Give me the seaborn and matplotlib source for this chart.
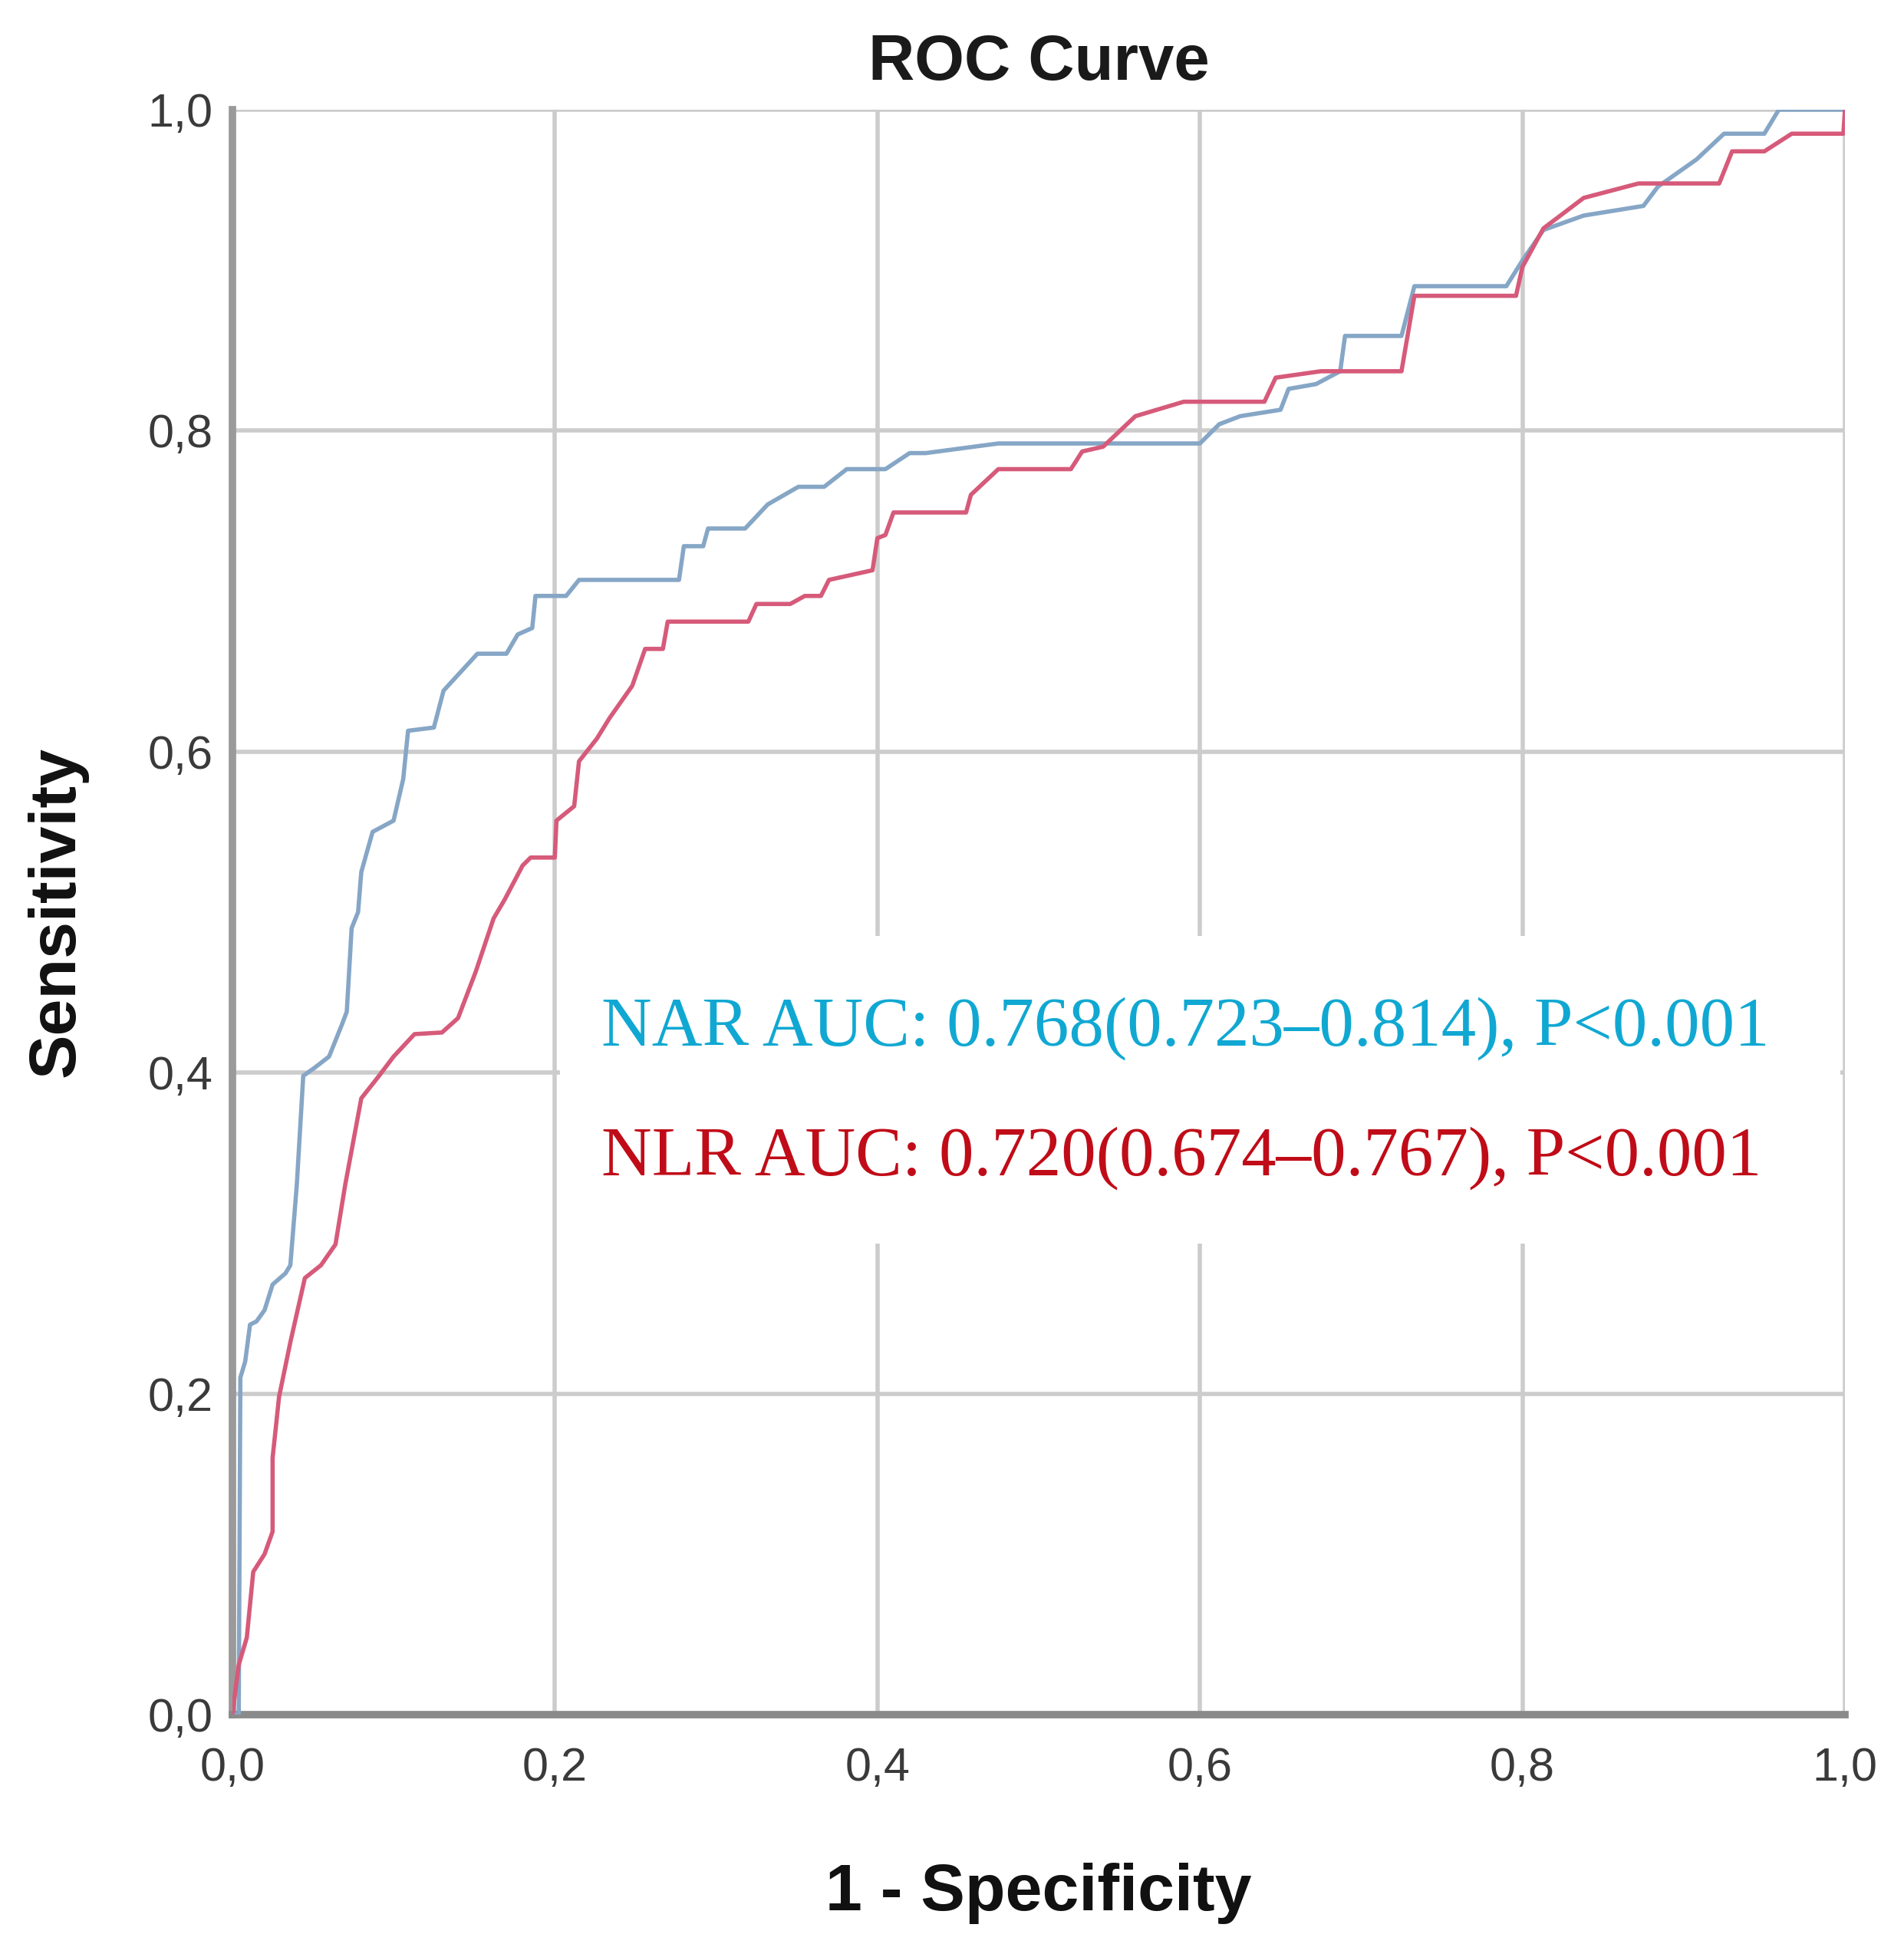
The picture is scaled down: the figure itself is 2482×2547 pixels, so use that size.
import numpy as np
import pandas as pd
import seaborn as sns
import matplotlib.pyplot as plt
from matplotlib.ticker import FuncFormatter

# ROC points (1 - specificity, sensitivity)
nar_fpr = [0, 0.004, 0.005, 0.008, 0.011, 0.015, 0.02, 0.025, 0.033, 0.036, 0.04, 0.044,
           0.051, 0.06, 0.068, 0.071, 0.074, 0.078, 0.08, 0.087, 0.1, 0.106, 0.109, 0.125,
           0.131, 0.152, 0.17, 0.177, 0.186, 0.188, 0.207, 0.215, 0.277, 0.28, 0.292, 0.295,
           0.318, 0.332, 0.351, 0.367, 0.381, 0.405, 0.42, 0.43, 0.475, 0.6, 0.612, 0.625,
           0.65, 0.655, 0.672, 0.687, 0.69, 0.725, 0.733, 0.79, 0.8, 0.813, 0.838, 0.875,
           0.884, 0.908, 0.925, 0.95, 0.959, 1.0]
nar_tpr = [0, 0.0, 0.21, 0.22, 0.243, 0.245, 0.252, 0.268, 0.275, 0.28, 0.33, 0.398,
           0.403, 0.41, 0.43, 0.438, 0.49, 0.5, 0.525, 0.55, 0.557, 0.583, 0.613, 0.615,
           0.638, 0.661, 0.661, 0.673, 0.677, 0.697, 0.697, 0.707, 0.707, 0.728, 0.728, 0.739,
           0.739, 0.754, 0.765, 0.765, 0.776, 0.776, 0.786, 0.786, 0.792, 0.792, 0.804, 0.809,
           0.813, 0.826, 0.829, 0.837, 0.859, 0.859, 0.89, 0.89, 0.906, 0.925, 0.934, 0.94,
           0.952, 0.969, 0.985, 0.985, 1.0, 1.0]

nlr_fpr = [0, 0.004, 0.009, 0.013, 0.02, 0.025, 0.025, 0.029, 0.036, 0.045, 0.055, 0.064,
           0.07, 0.08, 0.091, 0.1, 0.113, 0.13, 0.14, 0.151, 0.162, 0.169, 0.18, 0.185,
           0.2, 0.201, 0.212, 0.215, 0.226, 0.234, 0.248, 0.256, 0.267, 0.27, 0.32, 0.325,
           0.346, 0.355, 0.365, 0.37, 0.397, 0.4, 0.405, 0.41, 0.455, 0.458, 0.475, 0.52,
           0.527, 0.54, 0.56, 0.59, 0.64, 0.647, 0.675, 0.725, 0.733, 0.796, 0.8, 0.813,
           0.838, 0.872, 0.922, 0.93, 0.95, 0.967, 0.999, 1.0]
nlr_tpr = [0, 0.031, 0.048, 0.089, 0.1, 0.114, 0.16, 0.198, 0.232, 0.272, 0.28, 0.293,
           0.33, 0.384, 0.398, 0.41, 0.424, 0.425, 0.434, 0.463, 0.496, 0.508, 0.529, 0.534,
           0.534, 0.557, 0.566, 0.594, 0.608, 0.621, 0.641, 0.664, 0.664, 0.681, 0.681, 0.692,
           0.692, 0.697, 0.697, 0.707, 0.713, 0.733, 0.735, 0.749, 0.749, 0.76, 0.776, 0.776,
           0.787, 0.79, 0.809, 0.818, 0.818, 0.833, 0.837, 0.837, 0.884, 0.884, 0.902, 0.926,
           0.945, 0.954, 0.954, 0.974, 0.974, 0.985, 0.985, 1.0]

ticks = [0.0, 0.2, 0.4, 0.6, 0.8, 1.0]
nar_label = "NAR AUC: 0.768(0.723\u20130.814), P<0.001"
nlr_label = "NLR AUC: 0.720(0.674\u20130.767), P<0.001"

df = pd.concat([
    pd.DataFrame({"fpr": nar_fpr, "tpr": nar_tpr, "marker": "NAR"}),
    pd.DataFrame({"fpr": nlr_fpr, "tpr": nlr_tpr, "marker": "NLR"}),
], ignore_index=True)

sns.set_style("white")
plt.rcParams['font.family'] = ['Liberation Sans', 'DejaVu Sans']

fig = plt.figure(figsize=(24.82, 25.47), dpi=100)
ax = fig.add_axes([0.122, 0.1225, 0.847, 0.8214])

grid_c = "#cccccc"
for t in ticks[1:]:
    ax.axvline(t, color=grid_c, lw=4, zorder=0)
    ax.axhline(t, color=grid_c, lw=4, zorder=0)

sns.lineplot(data=df, x="fpr", y="tpr", hue="marker", sort=False, estimator=None,
             palette={"NAR": "#86a6c6", "NLR": "#d65a7a"}, lw=4, legend=False, ax=ax, zorder=3)

# white patch behind the pasted annotation
ax.fill_between([0.203, 0.997], 0.2935, 0.485, color="white", zorder=1, lw=0)

ax.text(0.229, 0.417, nar_label, color="#10a8d2", fontsize=65.5, family=['Liberation Serif'], zorder=4)
ax.text(0.229, 0.336, nlr_label, color="#c00c18", fontsize=65.5, family=['Liberation Serif'], zorder=4)

ax.set_xlim(0, 1.0)
ax.set_ylim(0, 1.0)
ax.set_xticks(ticks)
ax.set_yticks(ticks)
fmt = FuncFormatter(lambda v, p: f"{v:.1f}".replace(".", ","))
ax.xaxis.set_major_formatter(fmt)
ax.yaxis.set_major_formatter(fmt)
ax.tick_params(axis="both", labelsize=44, colors="#3a3a3a", length=0)
ax.tick_params(axis="x", pad=30)
ax.tick_params(axis="y", pad=18)

for s in ["top", "right"]:
    ax.spines[s].set_visible(False)
ax.spines["left"].set_color("#9a9a9a")
ax.spines["left"].set_linewidth(7)
ax.spines["bottom"].set_color("#8a8a8a")
ax.spines["bottom"].set_linewidth(7)

ax.set_title("ROC Curve", fontsize=60, fontweight="bold", color="#1a1a1a", pad=28)
ax.set_xlabel("1 - Specificity", fontsize=62, fontweight="bold", color="#111111", labelpad=68)
ax.set_ylabel("Sensitivity", fontsize=62, fontweight="bold", color="#111111", labelpad=56)

fig.savefig("out.png", dpi=100)
